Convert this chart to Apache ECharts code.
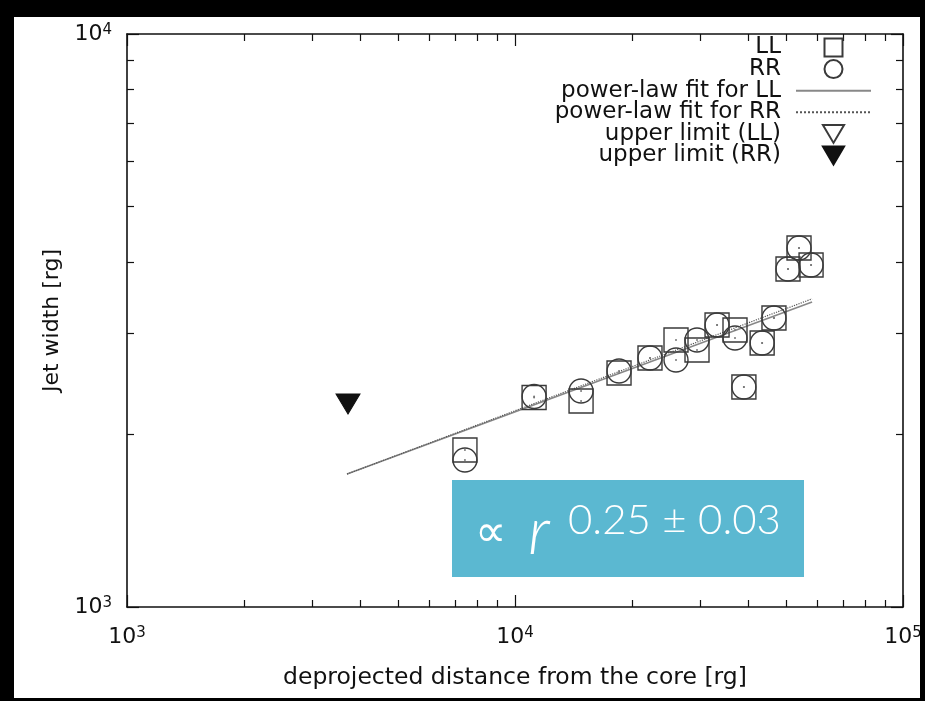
<!DOCTYPE html>
<html>
<head>
<meta charset="utf-8">
<script src="https://cdn.jsdelivr.net/npm/echarts@6/dist/echarts.min.js"></script>
<style>
html,body{margin:0;padding:0;background:#000;width:925px;height:701px;overflow:hidden;}
#c{position:absolute;left:14px;top:17px;width:906px;height:681px;background:#fff;}
</style>
</head>
<body>
<div id="c"></div>
<script>
// ---- data ----
const distX   = [7430, 11200, 14800, 18540, 22280, 26000, 29450, 33170, 36900, 38900, 43350, 46500, 50540, 53950, 57950];
const widthLL = [1879, 2321, 2288, 2561, 2720, 2924, 2809, 3105, 3043, 2421, 2889, 3194, 3890, 4232, 3953];
const widthRR = [1805, 2330, 2382, 2582, 2720, 2698, 2924, 3105, 2948, 2421, 2889, 3194, 3890, 4232, 3953];
const fitX    = [3690, 58300];
const fitLL   = [1706, 3406];
const fitRR   = [1706, 3450];
const limitLLX = [];
const limitLLY = [];
const limitRRX = [3712];
const limitRRY = [2261];
const xMajorTicks = [1000, 10000, 100000];
const xMinorTicks = [2000, 3000, 4000, 5000, 6000, 7000, 8000, 9000, 20000, 30000, 40000, 50000, 60000, 70000, 80000, 90000];
const yMajorTicks = [1000, 10000];
const yMinorTicks = [2000, 3000, 4000, 5000, 6000, 7000, 8000, 9000];
const legendNames = ['LL', 'RR', 'power-law fit for LL', 'power-law fit for RR', 'upper limit (LL)', 'upper limit (RR)'];

const zip = (a, b) => a.map((v, i) => [v, b[i]]);
const FONT = "'DejaVu Sans', 'Liberation Sans', sans-serif";
const AXC = '#111';
const richLbl = {
  b: {fontFamily: FONT, fontSize: 22, lineHeight: 22, color: AXC, padding: [5, 0, 0, 0], verticalAlign: 'bottom'},
  s: {fontFamily: FONT, fontSize: 15, lineHeight: 15, color: AXC, verticalAlign: 'top'}
};
const powFmt = v => '{b|10}{s|' + Math.round(Math.log10(v)) + '}';

function mkAxis(dim, pos, ticks, len, showLine, labelTicks, extra) {
  const ax = {
    type: 'log', logBase: 10, gridIndex: 0, position: pos,
    min: 1000, max: dim === 'x' ? 100000 : 10000,
    axisLine: {show: showLine, onZero: false, lineStyle: {color: AXC, width: 1.6}},
    axisTick: {show: true, inside: true, length: len, customValues: ticks, lineStyle: {color: AXC, width: 1.2}},
    splitLine: {show: false},
    minorTick: {show: false},
    axisLabel: labelTicks ? {show: true, customValues: labelTicks, formatter: powFmt, rich: richLbl, margin: dim === 'x' ? 19 : 15, hideOverlap: false, showMinLabel: true, showMaxLabel: true} : {show: false}
  };
  return Object.assign(ax, extra || {});
}

const xAxes = [
  mkAxis('x', 'bottom', xMajorTicks, 12, true, xMajorTicks, {
    name: 'deprojected distance from the core [rg]', nameLocation: 'middle', nameGap: 59,
    nameTextStyle: {fontFamily: FONT, fontSize: 23.5, color: AXC}
  }),
  mkAxis('x', 'bottom', xMinorTicks, 7, false, null),
  mkAxis('x', 'top', xMajorTicks, 12, true, null),
  mkAxis('x', 'top', xMinorTicks, 7, false, null)
];
const yAxes = [
  mkAxis('y', 'left', yMajorTicks, 12, true, yMajorTicks, {
    name: 'Jet width [rg]', nameLocation: 'middle', nameGap: 64,
    nameTextStyle: {fontFamily: FONT, fontSize: 22, color: AXC}
  }),
  mkAxis('y', 'left', yMinorTicks, 7, false, null),
  mkAxis('y', 'right', yMajorTicks, 12, true, null),
  mkAxis('y', 'right', yMinorTicks, 7, false, null)
];

const triPath = 'path://M0,0L20,0L10,17Z';
const sqPath = 'path://M0,0L10,0L10,10L0,10Z';
const markerBorder = '#3a3a3a';

const chart = echarts.init(document.getElementById('c'), null, {renderer: 'canvas'});
chart.setOption({
  animation: false,
  backgroundColor: '#fff',
  grid: {left: 113, top: 17, width: 776, height: 573, containLabel: false, outerBoundsMode: 'none'},
  xAxis: xAxes,
  yAxis: yAxes,
  legend: {
    data: legendNames, orient: 'vertical', align: 'right', right: 48, top: 19, padding: 0,
    itemWidth: 75, itemHeight: 18, itemGap: -1.4, selectedMode: false,
    textStyle: {fontFamily: FONT, fontSize: 23, lineHeight: 18, color: AXC, padding: [0, 10, 0, 0]}
  },
  series: [
    {name: 'LL', type: 'scatter', data: zip(distX, widthLL), symbol: sqPath, symbolSize: 24, symbolKeepAspect: true,
     itemStyle: {color: 'rgba(255,255,255,0)', borderColor: markerBorder, borderWidth: 1.4, opacity: 1}, z: 3},
    {name: 'RR', type: 'scatter', data: zip(distX, widthRR), symbol: 'circle', symbolSize: 24,
     itemStyle: {color: 'rgba(255,255,255,0)', borderColor: markerBorder, borderWidth: 1.4, opacity: 1}, z: 3},
    {name: 'power-law fit for LL', type: 'line', data: zip(fitX, fitLL), symbol: 'none', showSymbol: false,
     itemStyle: {color: '#888', opacity: 0},
     lineStyle: {color: '#888', width: 1.6, opacity: 1}, z: 2},
    {name: 'power-law fit for RR', type: 'line', data: zip(fitX, fitRR), symbol: 'none', showSymbol: false,
     itemStyle: {color: '#555', opacity: 0},
     lineStyle: {color: '#555', width: 1.2, type: 'dotted', opacity: 1}, z: 2},
    {name: 'upper limit (LL)', type: 'scatter', data: zip(limitLLX, limitLLY), symbol: triPath, symbolSize: [24, 20],
     itemStyle: {color: '#fff', borderColor: markerBorder, borderWidth: 1.2, opacity: 1}},
    {name: 'upper limit (RR)', type: 'scatter', data: zip(limitRRX, limitRRY), symbol: triPath, symbolSize: [24, 20],
     itemStyle: {color: '#111', borderColor: '#111', borderWidth: 1, opacity: 1}},
    {name: 'centre dots', type: 'scatter', data: zip(distX, widthLL).concat(zip(distX, widthRR)), symbol: 'circle', symbolSize: 2,
     itemStyle: {color: '#777', opacity: 1}, silent: true, z: 4}
  ],
  graphic: [
    {type: 'rect', x: 438, y: 463, shape: {width: 352, height: 97}, style: {fill: '#5bb8d1'}, z: 100},
    {type: 'text', x: 461, y: 518, z: 101, style: {text: '\u221D', fill: '#fff', fontSize: 44, fontFamily: "'DejaVu Sans', sans-serif", verticalAlign: 'middle', align: 'left'}},
    {type: 'text', x: 514, y: 516, z: 101, style: {text: 'r', fill: '#fff', fontSize: 66, fontStyle: 'italic', fontWeight: 300, fontFamily: "Lato, 'Open Sans', sans-serif", verticalAlign: 'middle', align: 'left'}},
    {type: 'text', x: 554, y: 503, z: 101, style: {text: '0.25 \u00B1 0.03', fill: '#fff', fontSize: 42, fontWeight: 300, fontFamily: "Lato, 'Open Sans', sans-serif", verticalAlign: 'middle', align: 'left'}}
  ]
});
</script>
</body>
</html>
